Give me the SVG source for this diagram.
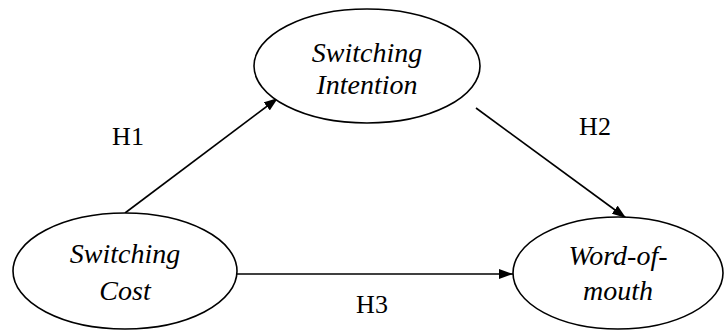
<svg xmlns="http://www.w3.org/2000/svg" width="725" height="333" viewBox="0 0 725 333">
<defs>
<marker id="arr" viewBox="0 0 14 10" refX="14" refY="5" markerWidth="14" markerHeight="10" markerUnits="userSpaceOnUse" orient="auto"><path d="M0,0 L14,5 L0,10 z" fill="#000"/></marker>
</defs>
<style>
.n{fill:#fff;stroke:#000;stroke-width:1.6}
.c{stroke:#000;stroke-width:1.6;fill:none;marker-end:url(#arr)}
.t{font-family:'Liberation Serif','Times New Roman',serif;font-style:italic;font-size:28px;fill:#000;text-anchor:middle}
.l{font-family:'Liberation Serif','Times New Roman',serif;font-size:26px;fill:#000;text-anchor:middle}
</style>
<rect width="725" height="333" fill="#fff"/>
<g id="connectors">
<line class="c" x1="125" y1="213" x2="278" y2="98"/>
<line class="c" x1="476" y1="108" x2="626" y2="218"/>
<line class="c" x1="237" y1="274" x2="513" y2="274"/>
</g>
<g id="switching-intention">
<ellipse class="n" cx="367" cy="66" rx="113" ry="57"/>
<text class="t" x="367" y="62">Switching</text>
<text class="t" x="367" y="94">Intention</text>
</g>
<g id="switching-cost">
<ellipse class="n" cx="125" cy="271" rx="112" ry="58"/>
<text class="t" x="125" y="263">Switching</text>
<text class="t" x="125" y="300">Cost</text>
</g>
<g id="word-of-mouth">
<ellipse class="n" cx="618" cy="273" rx="105" ry="56"/>
<text class="t" x="618" y="265">Word-of-</text>
<text class="t" x="618" y="300">mouth</text>
</g>
<g id="labels">
<text class="l" x="128" y="145">H1</text>
<text class="l" x="595" y="135">H2</text>
<text class="l" x="372" y="313">H3</text>
</g>
</svg>
